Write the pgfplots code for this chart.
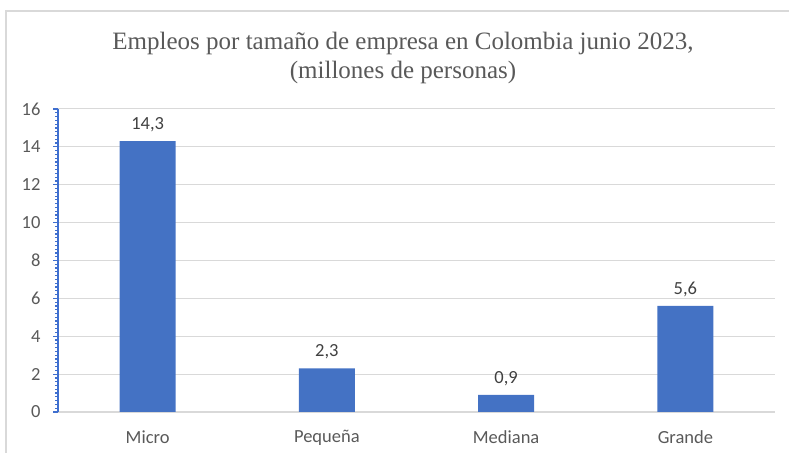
\documentclass[border=0pt]{standalone}
\usepackage{fontspec}
\setmainfont{Carlito}
\newfontfamily\titlefont{Liberation Serif}
\usepackage{pgfplots}
\pgfplotsset{compat=1.18}
\definecolor{barblue}{HTML}{4472C4}
\definecolor{gridgray}{HTML}{D9D9D9}
\definecolor{ticktext}{HTML}{595959}
\definecolor{labeltext}{HTML}{404040}
\definecolor{axisblue}{HTML}{3F6FCF}
\begin{document}
\begin{tikzpicture}[x=1bp,y=1bp]
\useasboundingbox (0,0) rectangle (789,453);
\draw[gridgray, line width=1.5bp] (6,-5) -- (6,442) -- (800,442);
\node[align=center, text=ticktext, font={\titlefont\fontsize{25bp}{29bp}\selectfont}] at (403,395.5)
  {Empleos por tamaño de empresa en Colombia junio 2023,\\(millones de personas)};
\begin{axis}[
  at={(58bp,41bp)}, anchor=south west,
  scale only axis, width=717bp, height=303bp,
  xmin=-0.5, xmax=3.5, ymin=0, ymax=16,
  /pgf/number format/assume math mode=true,
  xtick={0,1,2,3},
  xticklabels={Micro,Pequeña,Mediana,Grande},
  ytick={0,2,...,16},
  minor y tick num=9,
  ymajorgrids,
  major grid style={gridgray, line width=1bp},
  axis y line*=left, axis x line*=bottom,
  x axis line style={gridgray, line width=1.2bp},
  y axis line style={axisblue, line width=1.6bp},
  tick align=outside,
  x tick style={draw=none},
  y tick style={axisblue, line width=1.2bp},
  major tick length=5bp, minor tick length=3bp,
  tick label style={text=ticktext, font={\fontsize{18.5bp}{20bp}\selectfont}},
  xticklabel style={yshift=-10bp},
  yticklabel style={xshift=-9bp},
  ybar, bar width=56bp, bar shift=0pt,
  nodes near coords,
  nodes near coords style={text=labeltext, yshift=6bp, font={\fontsize{18.5bp}{20bp}\selectfont},
    /pgf/number format/.cd, fixed, fixed zerofill, precision=1, use comma, assume math mode=true},
  clip=false,
]
\addplot[fill=barblue, draw=none] coordinates {(0,14.3) (1,2.3) (2,0.9) (3,5.6)};
\end{axis}
\end{tikzpicture}
\end{document}
